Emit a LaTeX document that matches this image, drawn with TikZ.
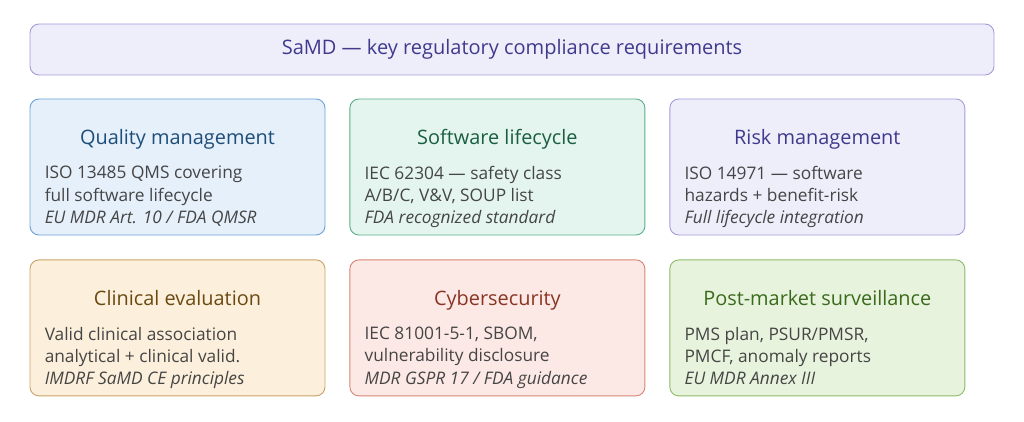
\documentclass[tikz,border=0pt]{standalone}
\usepackage{fontspec}
\setmainfont{Open Sans}
\usetikzlibrary{positioning}
\definecolor{bodygray}{HTML}{454545}
\definecolor{ttfill}{HTML}{EEEEFB}
\definecolor{ttline}{HTML}{A49BDB}
\definecolor{tttext}{HTML}{3F3A8C}
\definecolor{qmfill}{HTML}{E6F0FB}
\definecolor{qmline}{HTML}{6AA3D8}
\definecolor{qmtext}{HTML}{1F4E79}
\definecolor{slfill}{HTML}{E3F5EE}
\definecolor{slline}{HTML}{5AAE88}
\definecolor{sltext}{HTML}{1B5E40}
\definecolor{cefill}{HTML}{FCF0DC}
\definecolor{celine}{HTML}{C9A266}
\definecolor{cetext}{HTML}{6B4A12}
\definecolor{cyfill}{HTML}{FCE9E5}
\definecolor{cyline}{HTML}{D88475}
\definecolor{cytext}{HTML}{8A3424}
\definecolor{pmfill}{HTML}{E8F3DD}
\definecolor{pmline}{HTML}{8BBB66}
\definecolor{pmtext}{HTML}{3A6B1C}
\tikzset{
	box/.style={draw, rounded corners=9pt, line width=0.9pt, minimum width=295pt, minimum height=136pt, inner sep=0pt},
	head/.style={font=\fontsize{19.9}{22}\selectfont, anchor=base},
	body/.style={font=\fontsize{17.3}{22.2}\selectfont, text=bodygray, align=left, anchor=north west, inner sep=0pt}
}
\newcommand{\boxtext}[5]{%
	\node[head, text=#2] (#1h) at ([yshift=-46pt]#1.north) {#3};
	\node[body] (#1b) at ([xshift=15pt,yshift=-67.5pt]#1.north west) {#4\\\textit{#5}};
}
\begin{document}
\begin{tikzpicture}[x=1pt,y=1pt]
\useasboundingbox (0,0) rectangle (1024,-422);

\node[box, fill=ttfill, draw=ttline, text=tttext, minimum width=964pt, minimum height=51pt, font=\fontsize{20}{22}\selectfont] (tt) at (512,-49.5) {SaMD — key regulatory compliance requirements};

% first row
\node[box, fill=qmfill, draw=qmline] (qm) at (177.5,-167) {};
\node[box, fill=slfill, draw=slline, right=24pt of qm] (sl) {};
\node[box, fill=ttfill, draw=ttline, right=24pt of sl] (rm) {};

% second row
\node[box, fill=cefill, draw=celine, below=24pt of qm] (ce) {};
\node[box, fill=cyfill, draw=cyline, right=24pt of ce] (cy) {};
\node[box, fill=pmfill, draw=pmline, right=24pt of cy] (pm) {};

\boxtext{qm}{qmtext}{Quality management}{ISO 13485 QMS covering\\full software lifecycle}{EU MDR Art. 10 / FDA QMSR}
\boxtext{sl}{sltext}{Software lifecycle}{IEC 62304 — safety class\\A/B/C, V\&V, SOUP list}{FDA recognized standard}
\boxtext{rm}{tttext}{Risk management}{ISO 14971 — software\\hazards + benefit-risk}{Full lifecycle integration}
\boxtext{ce}{cetext}{Clinical evaluation}{Valid clinical association\\analytical + clinical valid.}{IMDRF SaMD CE principles}
\boxtext{cy}{cytext}{Cybersecurity}{IEC 81001-5-1, SBOM,\\vulnerability disclosure}{MDR GSPR 17 / FDA guidance}
\boxtext{pm}{pmtext}{Post-market surveillance}{PMS plan, PSUR/PMSR,\\PMCF, anomaly reports}{EU MDR Annex III}

\end{tikzpicture}
\end{document}
